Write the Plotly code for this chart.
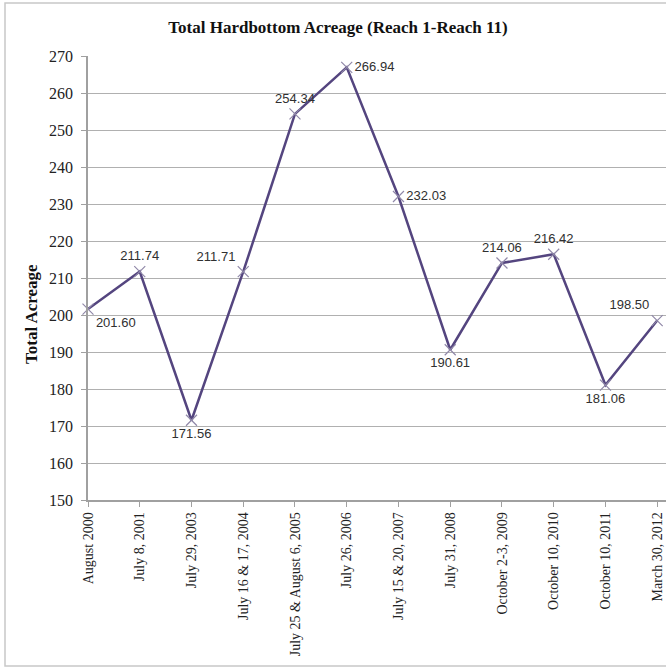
import plotly.graph_objects as go

# Survey dates and total hardbottom acreage (Reach 1 - Reach 11)
surveys = [
    "August 2000", "July 8, 2001", "July 29, 2003", "July 16 & 17, 2004",
    "July 25 & August 6, 2005", "July 26, 2006", "July 15 & 20, 2007",
    "July 31, 2008", "October 2-3, 2009", "October 10, 2010",
    "October 10, 2011", "March 30, 2012",
]
acreage = [201.60, 211.74, 171.56, 211.71, 254.34, 266.94, 232.03,
           190.61, 214.06, 216.42, 181.06, 198.50]
label_pos = ["bottom right", "top center", "bottom center", "top left",
             "top center", "middle right", "middle right", "bottom center",
             "top center", "top center", "bottom center", "top left"]

W, H = 666, 669
L, R, T, B = 88, 0, 56, 169
pw = W - L - R
ph = H - T - B


def px_x(x):
    return (x - L) / pw


def px_y(y):
    return (H - B - y) / ph


fig = go.Figure()
fig.add_trace(go.Scatter(
    x=list(range(len(surveys))),
    y=acreage,
    mode="lines+markers+text",
    line=dict(color="#54457f", width=2.5),
    marker=dict(symbol="x-thin", size=11,
                line=dict(color="#9088a8", width=1.2), color="#9088a8"),
    text=[f"{v:.2f}" for v in acreage],
    textposition=label_pos,
    textfont=dict(family="Liberation Sans", size=13, color="#303030"),
    cliponaxis=False,
    showlegend=False,
))

# outer chart frame
fig.add_shape(type="rect", xref="paper", yref="paper",
              x0=px_x(5), x1=px_x(W + 5), y0=px_y(666), y1=px_y(3),
              line=dict(color="#c8c8c8", width=1.5), layer="below")

# vertical axis title
fig.add_annotation(text="<b>Total Acreage</b>", xref="paper", yref="paper",
                   x=px_x(31), y=px_y(314), textangle=-90, showarrow=False,
                   xanchor="center", yanchor="middle",
                   font=dict(family="Liberation Serif", size=17, color="#111"))

fig.update_layout(
    width=W, height=H,
    margin=dict(l=L, r=R, t=T, b=B),
    paper_bgcolor="white", plot_bgcolor="white",
    title=dict(text="<b>Total Hardbottom Acreage (Reach 1-Reach 11)</b>",
               x=338 / W, xanchor="center", y=1 - 27 / H, yanchor="middle",
               font=dict(family="Liberation Serif", size=17, color="#111")),
    xaxis=dict(
        range=[0, 11.17], automargin=False,
        tickmode="array", tickvals=list(range(len(surveys))), ticktext=surveys,
        tickangle=-90, ticks="outside", ticklen=5, tickcolor="#a0a0a0",
        ticklabeloverflow="allow",
        showline=True, linecolor="#a0a0a0", linewidth=1.5,
        showgrid=False, zeroline=False,
        tickfont=dict(family="Liberation Serif", size=14, color="#222"),
    ),
    yaxis=dict(
        range=[150, 270], dtick=10, automargin=False,
        showline=True, linecolor="#a0a0a0", linewidth=1.5,
        ticks="outside", ticklen=5, tickcolor="#a0a0a0",
        ticklabelstandoff=5,
        showgrid=True, gridcolor="#b0b0b0", gridwidth=1.3, zeroline=False,
        tickfont=dict(family="Liberation Serif", size=16, color="#222"),
    ),
)

fig.write_html("out.html")
